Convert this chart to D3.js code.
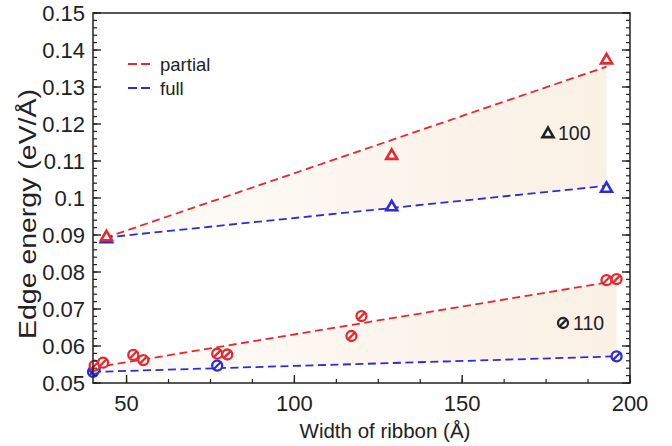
<!DOCTYPE html>
<html>
<head>
<meta charset="utf-8">
<script src="https://cdn.jsdelivr.net/npm/d3@7"></script>
<style>
  body { margin: 0; background: #fff; }
  text { font-family: "Liberation Sans", Arial, sans-serif; fill: #222; }
</style>
</head>
<body>
<div id="plot"></div>
<script>
// data
const xTicks = [50, 100, 150, 200];
const yTicks = [0.05, 0.06, 0.07, 0.08, 0.09, 0.1, 0.11, 0.12, 0.13, 0.14, 0.15];
const yTickLabels = ["0.05", "0.06", "0.07", "0.08", "0.09", "0.1", "0.11", "0.12", "0.13", "0.14", "0.15"];

// (100) ribbons - triangles
const partial100 = [[44, 0.0897], [129, 0.1117], [193, 0.1375]];
const full100 = [[44, 0.0892], [129, 0.0978], [193, 0.1028]];
const partial100Fit = [[43.5, 0.0892], [193, 0.1355]];
const full100Fit = [[43.5, 0.0893], [193, 0.1033]];

// (110) ribbons - hatched circles
const partial110 = [[40.5, 0.0547], [43, 0.0555], [52, 0.0576], [55, 0.0562], [77, 0.0579],
  [80, 0.0577], [117, 0.0627], [120, 0.0681], [193, 0.0778], [196, 0.0781]];
const full110 = [[40, 0.0530], [40.5, 0.0538], [77, 0.0547], [196, 0.0572]];
const partial110Fit = [[40, 0.0541], [196, 0.0776]];
const full110Fit = [[40, 0.0530], [196, 0.0572]];

const red = "#e8282c", blue = "#2b2be0";

const W = 672, H = 446;
const margin = {top: 13, right: 42, bottom: 63, left: 93};
const width = W - margin.left - margin.right;
const height = H - margin.top - margin.bottom;

const svg = d3.select("#plot").append("svg")
  .attr("width", W).attr("height", H);

const defs = svg.append("defs");
const grad = defs.append("linearGradient").attr("id", "shade")
  .attr("x1", "0%").attr("x2", "100%").attr("y1", "0%").attr("y2", "0%");
grad.append("stop").attr("offset", "0%").attr("stop-color", "#fefcf9");
grad.append("stop").attr("offset", "100%").attr("stop-color", "#faf0e4");

const g = svg.append("g").attr("transform", "translate(" + margin.left + "," + margin.top + ")");

const x = d3.scaleLinear().domain([40, 200]).range([0, width]);
const y = d3.scaleLinear().domain([0.05, 0.15]).range([height, 0]);

// shaded areas between partial and full fits
function band(top, bot) {
  const pts = top.map(d => [x(d[0]), y(d[1])]).concat(bot.slice().reverse().map(d => [x(d[0]), y(d[1])]));
  g.append("path").attr("d", "M" + pts.join("L") + "Z").attr("fill", "url(#shade)");
}
band(partial100Fit, full100Fit);
band(partial110Fit, full110Fit);

// fit lines
const line = d3.line().x(d => x(d[0])).y(d => y(d[1]));
[[partial100Fit, red], [full100Fit, blue], [partial110Fit, red], [full110Fit, blue]].forEach(([d, c]) => {
  g.append("path").attr("d", line(d)).attr("fill", "none")
    .attr("stroke", c).attr("stroke-width", 1.8).attr("stroke-dasharray", "8,4.5");
});

// markers
const tri = d3.symbol().type(d3.symbolTriangle).size(52);
function triangles(data, c) {
  g.selectAll(null).data(data).enter().append("path")
    .attr("d", tri)
    .attr("transform", d => "translate(" + x(d[0]) + "," + (y(d[1]) + 1) + ")")
    .attr("fill", "#fff").attr("stroke", c).attr("stroke-width", 2.6);
}
function hatched(data, c) {
  const m = g.selectAll(null).data(data).enter().append("g")
    .attr("transform", d => "translate(" + x(d[0]) + "," + y(d[1]) + ")");
  m.append("circle").attr("r", 5).attr("fill", "#fff").attr("stroke", c).attr("stroke-width", 2.3);
  m.append("line").attr("x1", -3.6).attr("y1", 3.6).attr("x2", 3.6).attr("y2", -3.6)
    .attr("stroke", c).attr("stroke-width", 2.3);
}
triangles(full100, blue);
triangles(partial100, red);
hatched(full110, blue);
hatched(partial110, red);

// frame
g.append("rect").attr("width", width).attr("height", height)
  .attr("fill", "none").attr("stroke", "#222").attr("stroke-width", 1.5);

// y ticks (left and right, inward)
const yMinor = d3.range(0.05, 0.1501, 0.002);
[0, width].forEach(x0 => {
  const dir = x0 === 0 ? 1 : -1;
  g.selectAll(null).data(yMinor).enter().append("line")
    .attr("x1", x0).attr("x2", x0 + dir * 4)
    .attr("y1", d => y(d)).attr("y2", d => y(d))
    .attr("stroke", "#222").attr("stroke-width", 1.2);
  g.selectAll(null).data(yTicks).enter().append("line")
    .attr("x1", x0).attr("x2", x0 + dir * 8)
    .attr("y1", d => y(d)).attr("y2", d => y(d))
    .attr("stroke", "#222").attr("stroke-width", 1.4);
});
g.selectAll(null).data(yTicks).enter().append("text")
  .attr("x", -8).attr("y", d => y(d)).attr("dy", "0.36em")
  .attr("text-anchor", "end").attr("font-size", 22)
  .text((d, i) => yTickLabels[i]);

// x ticks (bottom, inward)
const xMinor = d3.range(50, 200.1, 12.5);
g.selectAll(null).data(xMinor).enter().append("line")
  .attr("x1", d => x(d)).attr("x2", d => x(d))
  .attr("y1", height).attr("y2", height - 4)
  .attr("stroke", "#222").attr("stroke-width", 1.2);
g.selectAll(null).data(xTicks).enter().append("line")
  .attr("x1", d => x(d)).attr("x2", d => x(d))
  .attr("y1", height).attr("y2", height - 8)
  .attr("stroke", "#222").attr("stroke-width", 1.4);
g.selectAll(null).data(xTicks).enter().append("text")
  .attr("x", d => x(d)).attr("y", height + 28)
  .attr("text-anchor", "middle").attr("font-size", 22)
  .text(d => d);

// axis titles
svg.append("text")
  .attr("x", 385).attr("y", 438)
  .attr("text-anchor", "middle").attr("font-size", 20.5)
  .text("Width of ribbon (Å)");
svg.append("text")
  .attr("transform", "translate(36,214) rotate(-90)")
  .attr("text-anchor", "middle").attr("font-size", 23)
  .attr("textLength", 250).attr("lengthAdjust", "spacingAndGlyphs")
  .text("Edge energy (eV/Å)");

// legend
const legend = [["partial", red], ["full", blue]];
legend.forEach(([name, c], i) => {
  const ly = 51 + i * 24;
  g.append("line").attr("x1", 35).attr("x2", 57).attr("y1", ly).attr("y2", ly)
    .attr("stroke", c).attr("stroke-width", 1.8).attr("stroke-dasharray", "9,4");
  g.append("text").attr("x", 67).attr("y", ly).attr("dy", "0.36em")
    .attr("font-size", 18.5).text(name);
});

// family labels
const l100 = g.append("g").attr("transform", "translate(" + (548 - margin.left) + "," + (133 - margin.top) + ")");
l100.append("path").attr("d", tri).attr("transform", "translate(0,1)")
  .attr("fill", "#fff").attr("stroke", "#222").attr("stroke-width", 2.6);
l100.append("text").attr("x", 10).attr("dy", "0.36em").attr("font-size", 19.5).text("100");
const l110 = g.append("g").attr("transform", "translate(" + (563 - margin.left) + "," + (323 - margin.top) + ")");
l110.append("circle").attr("r", 5).attr("fill", "#fff").attr("stroke", "#222").attr("stroke-width", 2.3);
l110.append("line").attr("x1", -3.6).attr("y1", 3.6).attr("x2", 3.6).attr("y2", -3.6)
  .attr("stroke", "#222").attr("stroke-width", 2.3);
l110.append("text").attr("x", 10).attr("dy", "0.36em").attr("font-size", 19.5).text("110");
</script>
</body>
</html>
